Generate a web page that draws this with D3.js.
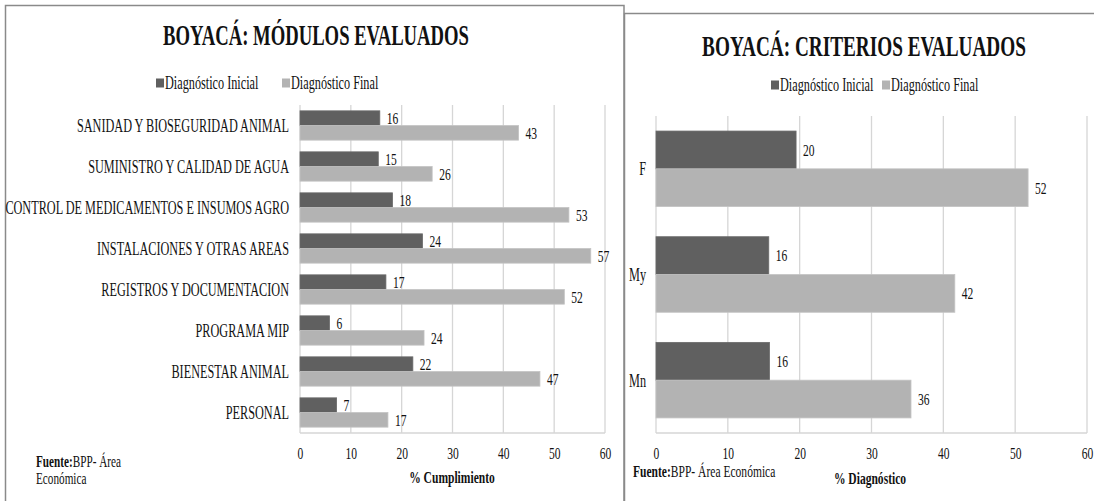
<!DOCTYPE html>
<html>
<head>
<meta charset="utf-8">
<script src="https://cdn.jsdelivr.net/npm/d3@7"></script>
<style>
  html, body { margin: 0; padding: 0; background: #fff; }
  svg { display: block; }
</style>
</head>
<body>
<svg id="chart" width="1094" height="501"></svg>
<script>
// ---------- data ----------
const modCategories = [
  "SANIDAD Y BIOSEGURIDAD ANIMAL",
  "SUMINISTRO Y CALIDAD DE AGUA",
  "CONTROL DE MEDICAMENTOS E INSUMOS AGRO",
  "INSTALACIONES Y OTRAS AREAS",
  "REGISTROS Y DOCUMENTACION",
  "PROGRAMA MIP",
  "BIENESTAR ANIMAL",
  "PERSONAL"
];
const modInicial = [15.7, 15.4, 18.2, 24.1, 16.9, 5.8, 22.2, 7.2];
const modFinal   = [43.0, 26.0, 52.9, 57.2, 52.0, 24.4, 47.2, 17.3];

const critCategories = ["F", "My", "Mn"];
const critInicial = [19.5, 15.7, 15.8];
const critFinal   = [51.8, 41.6, 35.5];

const xTicks = [0, 10, 20, 30, 40, 50, 60];
const seriesNames = ["Diagnóstico Inicial", "Diagnóstico Final"];
const seriesColors = ["#606060", "#b3b3b3"];

const titles = ["BOYACÁ: MÓDULOS EVALUADOS", "BOYACÁ: CRITERIOS EVALUADOS"];
const axisTitles = ["% Cumplimiento", "% Diagnóstico"];

// ---------- helpers ----------
const FONT = '"Liberation Serif", Tinos, serif';
const SX = 0.68;
const svg = d3.select("#chart").style("font-family", FONT);

function label(g, x, y, str, size, anchor, weight, sx) {
  return g.append("text")
    .attr("transform", `translate(${x},${y}) scale(${sx || SX},1)`)
    .attr("text-anchor", anchor || "start")
    .attr("dominant-baseline", "central")
    .style("font-family", FONT)
    .style("font-size", size + "px")
    .style("font-weight", weight || "normal")
    .attr("fill", "#111")
    .text(str);
}

function panel(cfg) {
  const g = svg.append("g");
  const x = d3.scaleLinear().domain([0, 60]).range([cfg.x0, cfg.x1]);
  const y = d3.scaleBand().domain(cfg.cats).range([cfg.top, cfg.bottom]).padding(0);
  const bw = y.bandwidth();
  const barH = bw * 0.3575;
  const off = (bw - 2 * barH) / 2;

  // grid lines
  g.append("g").selectAll("line").data(xTicks).join("line")
    .attr("x1", d => x(d)).attr("x2", d => x(d))
    .attr("y1", cfg.top).attr("y2", cfg.bottom)
    .attr("stroke", "#d6d6d6").attr("stroke-width", 1.3);
  g.append("line")
    .attr("x1", x(0)).attr("x2", x(60))
    .attr("y1", cfg.bottom).attr("y2", cfg.bottom)
    .attr("stroke", "#d6d6d6").attr("stroke-width", 1.3);

  // bars
  const series = [cfg.ini, cfg.fin];
  series.forEach((vals, si) => {
    const gg = g.append("g");
    gg.selectAll("rect").data(vals).join("rect")
      .attr("x", x(0))
      .attr("y", (d, i) => y(cfg.cats[i]) + off + si * barH)
      .attr("width", d => x(d) - x(0))
      .attr("height", barH)
      .attr("fill", seriesColors[si])
      .attr("stroke", si === 0 ? "#6a6a6a" : "#c4c4c4")
      .attr("stroke-width", 0.8);
    vals.forEach((d, i) => {
      label(gg, x(d) + cfg.valPad, y(cfg.cats[i]) + off + si * barH + barH / 2,
            String(Math.round(d)), cfg.valSize, "start");
    });
  });

  // category axis
  const ay = g.append("g").attr("transform", `translate(${x(0)},0)`)
    .call(d3.axisLeft(y).tickSize(0).tickPadding(0));
  ay.attr("font-family", null);
  ay.select(".domain").remove();
  ay.selectAll("text")
    .attr("x", 0).attr("dy", null)
    .attr("dominant-baseline", "central")
    .attr("transform", `translate(${-cfg.catPad},0) scale(${SX},1)`)
    .style("font-family", FONT)
    .style("font-size", cfg.catSize + "px")
    .attr("fill", "#111");

  // value axis
  const ax = g.append("g").attr("transform", `translate(0,${cfg.tickY})`)
    .call(d3.axisBottom(x).tickValues(xTicks).tickSize(0).tickPadding(0));
  ax.attr("font-family", null);
  ax.select(".domain").remove();
  ax.selectAll("text")
    .attr("y", 0).attr("dy", null)
    .attr("dominant-baseline", "central")
    .attr("transform", `scale(${SX},1)`)
    .style("font-family", FONT)
    .style("font-size", "17px")
    .attr("fill", "#111");

  // title: compress horizontally to the reference width
  const t = label(g, cfg.titleX, cfg.titleY, cfg.title, 29, "middle", "bold", 1);
  const len = t.node().getComputedTextLength();
  t.attr("transform", `translate(${cfg.titleX},${cfg.titleY}) scale(${cfg.titleW / len},1)`);

  // legend
  const lg = g.append("g");
  cfg.legend.forEach((lx, i) => {
    lg.append("rect").attr("x", lx).attr("y", cfg.legendY - 4.5)
      .attr("width", 8).attr("height", 9).attr("fill", seriesColors[i]);
    label(lg, lx + 9, cfg.legendY, seriesNames[i], 18, "start");
  });

  // axis title
  label(g, cfg.axTitleX, cfg.axTitleY, cfg.axTitle, 17, "middle", "bold");
  return g;
}

// frames
svg.append("rect").attr("x", 5.5).attr("y", 5.5).attr("width", 618.5).attr("height", 520)
  .attr("fill", "none").attr("stroke", "#8a8a8a").attr("stroke-width", 1.5);
svg.append("rect").attr("x", 624.5).attr("y", 13.5).attr("width", 520).attr("height", 520)
  .attr("fill", "#fff").attr("stroke", "#8a8a8a").attr("stroke-width", 1.5);

panel({
  cats: modCategories, ini: modInicial, fin: modFinal,
  x0: 300, x1: 605, top: 105, bottom: 433,
  valPad: 7, valSize: 17, catPad: 11, catSize: 18, tickY: 453,
  title: titles[0], titleX: 316, titleY: 35, titleW: 306,
  legend: [156, 282], legendY: 83,
  axTitle: axisTitles[0], axTitleX: 452, axTitleY: 477
});

panel({
  cats: critCategories, ini: critInicial, fin: critFinal,
  x0: 656, x1: 1087, top: 116, bottom: 433,
  valPad: 7, valSize: 17, catPad: 10, catSize: 18, tickY: 453,
  title: titles[1], titleX: 864, titleY: 46, titleW: 324,
  legend: [771, 882], legendY: 85,
  axTitle: axisTitles[1], axTitleX: 870, axTitleY: 478
});

// sources
const src = svg.append("g");
function fuente(x, y, rest, size) {
  const t = src.append("text")
    .attr("transform", `translate(${x},${y}) scale(${SX},1)`)
    .attr("dominant-baseline", "central")
    .style("font-family", FONT)
    .style("font-size", size + "px")
    .attr("fill", "#111");
  t.append("tspan").style("font-weight", "bold").text("Fuente:");
  t.append("tspan").text(rest);
}
fuente(36, 461, "BPP- Área", 16.5);
label(src, 36, 478, "Económica", 16.5, "start");
fuente(633, 471, "BPP- Área Económica", 17);
</script>
</body>
</html>
